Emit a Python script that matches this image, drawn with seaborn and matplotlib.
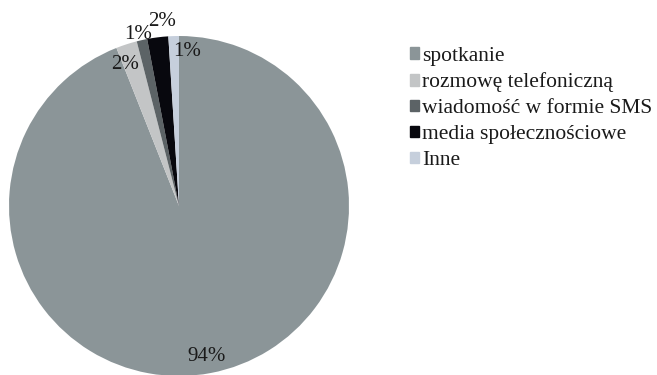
import numpy as np
import matplotlib
matplotlib.use("Agg")
import matplotlib.pyplot as plt
import seaborn as sns

categories = ["spotkanie", "rozmowę telefoniczną", "wiadomość w formie SMS",
              "media społecznościowe", "Inne"]
values = [94, 2, 1, 2, 1]
labels = ["94%", "2%", "1%", "2%", "1%"]
colors = ["#8b9598", "#c3c5c6", "#5c6366", "#08080e", "#c6cfdc"]
# label placement: radius (fraction of pie radius) and angular nudge in degrees
label_radius = [0.90, 0.89, 1.04, 1.09, 0.91]
label_nudge = [-0.3, 2.8, 0.8, -2.0, -4.8]

sns.set_theme(style="white")
plt.rcParams["font.family"] = ["Liberation Serif", "DejaVu Serif"]

W, H = 657, 375
fig = plt.figure(figsize=(W / 100, H / 100), dpi=100)
cx, cy, r = 179, 206, 170
ax = fig.add_axes([(cx - r) / W, (H - cy - r) / H, 2 * r / W, 2 * r / H])

wedges, _ = ax.pie(values, colors=colors, startangle=90, counterclock=False,
                   radius=1.0, wedgeprops=dict(linewidth=0))
ax.set_xlim(-1, 1)
ax.set_ylim(-1, 1)
ax.set_aspect("equal")
ax.axis("off")

for w, lab, rr, dn in zip(wedges, labels, label_radius, label_nudge):
    mid = np.deg2rad((w.theta1 + w.theta2) / 2 + dn)
    ax.text(rr * np.cos(mid), rr * np.sin(mid), lab, ha="center", va="center",
            fontsize=15, color="#1a1a1a")

handles = [plt.Rectangle((0, 0), 1, 1, color=c) for c in colors]
fig.legend(handles, categories, loc="upper left",
           bbox_to_anchor=(401 / W, 1 - 38 / H), frameon=False,
           fontsize=15.5, handlelength=0.45, handleheight=0.45,
           handletextpad=0.12, labelspacing=0.32, borderaxespad=0,
           labelcolor="#1a1a1a")

fig.savefig("out.png", dpi=100)
